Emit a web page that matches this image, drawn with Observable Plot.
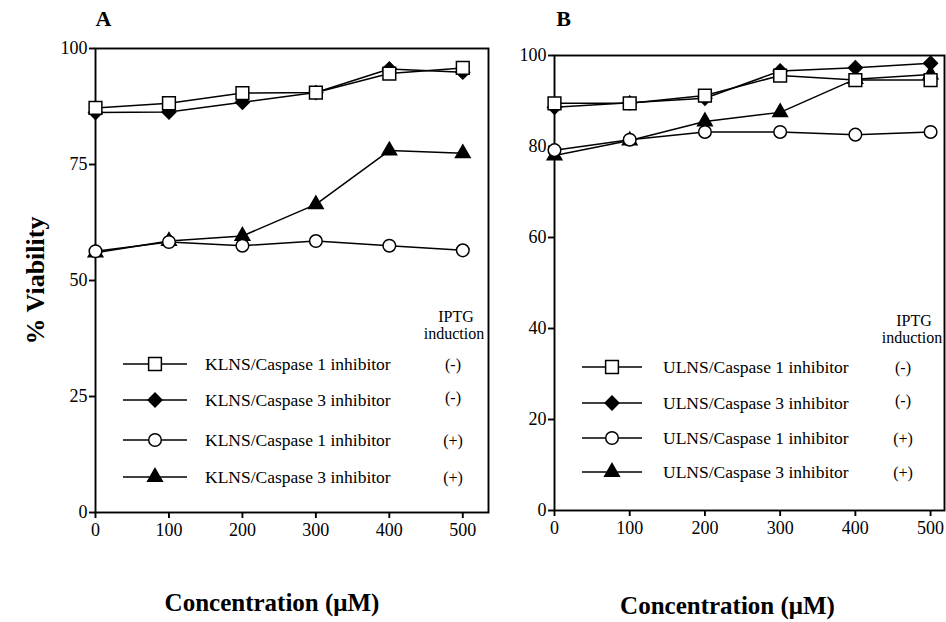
<!DOCTYPE html>
<html>
<head>
<meta charset="utf-8">
<script src="https://cdn.jsdelivr.net/npm/d3@7"></script>
<script src="https://cdn.jsdelivr.net/npm/@observablehq/plot@0.6"></script>
<style>
  html, body { margin: 0; padding: 0; background: #fff; }
  #wrap { position: relative; width: 946px; height: 622px; background: #fff; overflow: hidden; }
  #wrap > svg, #wrap > figure { position: absolute; top: 0; margin: 0; }
</style>
</head>
<body>
<div id="wrap"></div>
<script>
// ---- data ----
const conc = [0, 100, 200, 300, 400, 500];
const xTicks = [0, 100, 200, 300, 400, 500];
const yTicksA = [0, 25, 50, 75, 100];
const yTicksB = [0, 20, 40, 60, 80, 100];

// Panel A (KLNS)
const aCasp1Minus = [87.2, 88.2, 90.4, 90.5, 94.6, 95.8];
const aCasp3Minus = [86.2, 86.3, 88.4, 90.5, 95.6, 94.9];
const aCasp1Plus  = [56.3, 58.3, 57.5, 58.5, 57.5, 56.5];
const aCasp3Plus  = [56.0, 58.5, 59.6, 66.4, 78.0, 77.4];

// Panel B (ULNS)
const bCasp1Minus = [89.5, 89.5, 91.2, 95.6, 94.6, 94.6];
const bCasp3Minus = [88.6, 89.6, 90.6, 96.6, 97.3, 98.3];
const bCasp1Plus  = [79.2, 81.5, 83.2, 83.2, 82.6, 83.2];
const bCasp3Plus  = [78.0, 81.3, 85.5, 87.5, 94.8, 95.8];

const legendA = ["KLNS/Caspase 1 inhibitor", "KLNS/Caspase 3 inhibitor", "KLNS/Caspase 1 inhibitor", "KLNS/Caspase 3 inhibitor"];
const legendB = ["ULNS/Caspase 1 inhibitor", "ULNS/Caspase 3 inhibitor", "ULNS/Caspase 1 inhibitor", "ULNS/Caspase 3 inhibitor"];
const induction = ["(-)", "(-)", "(+)", "(+)"];

// marker styles (order matches legend rows)
const styles = [
  {symbol: "square",   fill: "white", r: 7.2},
  {symbol: "diamond2", fill: "black", r: 6.2},
  {symbol: "circle",   fill: "white", r: 6.3},
  {symbol: "triangle", fill: "black", r: 5.4}
];
const drawOrder = [3, 2, 1, 0];

const FONT = "'Liberation Serif', 'DejaVu Serif', serif";

function tidy(seriesList) {
  const rows = [];
  seriesList.forEach((vals, s) => vals.forEach((v, i) => rows.push({s, x: conc[i], y: v})));
  return rows;
}

function panel(opts) {
  const rows = tidy(opts.series);
  const marks = [
    Plot.frame({stroke: "black", strokeWidth: 1.9}),
    Plot.axisY({ticks: opts.yTicks, tickSize: 6, tickPadding: 2, label: null, fontSize: 18, strokeWidth: 1.9}),
    Plot.axisX({ticks: xTicks, tickSize: 6, tickPadding: 5, label: null, fontSize: 18, strokeWidth: 1.9}),
    Plot.line(rows, {x: "x", y: "y", z: "s", stroke: "black", strokeWidth: 1.5})
  ];
  for (const s of drawOrder) {
    const st = styles[s];
    marks.push(Plot.dot(rows.filter(d => d.s === s), {x: "x", y: "y", symbol: () => st.symbol, r: st.r, fill: st.fill, stroke: "black", strokeWidth: 1.5}));
  }
  marks.push(
    Plot.text([opts.letter], {frameAnchor: "top-left", dx: opts.letterDx, dy: opts.letterDy, fontSize: 22, fontWeight: "bold", lineAnchor: "middle", textAnchor: "middle"}),
    Plot.text(["Concentration (μM)"], {frameAnchor: "bottom", dx: opts.titleDx, dy: opts.titleDy, fontSize: 25, fontWeight: "bold", lineAnchor: "middle", textAnchor: "middle"})
  );
  if (opts.ylabel) {
    marks.push(Plot.text([opts.ylabel], {frameAnchor: "left", dx: opts.ylabelDx, dy: 0, rotate: -90, fontSize: 26, fontWeight: "bold", lineAnchor: "middle", textAnchor: "middle"}));
  }
  return Plot.plot({
    width: opts.width, height: 622,
    marginLeft: opts.ml, marginRight: opts.mr, marginTop: opts.mt, marginBottom: opts.mb,
    style: {fontFamily: FONT, fontSize: "18px", color: "black", background: "transparent", overflow: "visible"},
    x: {domain: [0, opts.xmax]},
    y: {domain: [0, 100]},
    symbol: {type: "identity"},
    marks
  });
}

const wrap = document.getElementById("wrap");

const pA = panel({
  series: [aCasp1Minus, aCasp3Minus, aCasp1Plus, aCasp3Plus],
  yTicks: yTicksA, width: 500, ml: 95, mr: 12, mt: 48, mb: 110, xmax: 535,
  letter: "A", letterDx: 8, letterDy: -30,
  titleDx: -20, titleDy: 90,
  ylabel: "% Viability", ylabelDx: -60
});
pA.style.left = "0px";
wrap.appendChild(pA);

const pB = panel({
  series: [bCasp1Minus, bCasp3Minus, bCasp1Plus, bCasp3Plus],
  yTicks: yTicksB, width: 446, ml: 54, mr: 2, mt: 55, mb: 112, xmax: 518.5,
  letter: "B", letterDx: 9, letterDy: -37,
  titleDx: -22, titleDy: 95
});
pB.style.left = "500px";
wrap.appendChild(pB);

// ---- legends (overlay) ----
const lsvg = d3.select(wrap).append("svg")
  .attr("width", 946).attr("height", 622)
  .style("left", "0px").style("pointer-events", "none")
  .style("font-family", FONT);

const symMap = {square: d3.symbolSquare, diamond2: d3.symbolDiamond2, circle: d3.symbolCircle, triangle: d3.symbolTriangle};

function legend(cfg) {
  const g = lsvg.append("g");
  g.append("text").attr("x", cfg.hdrX).attr("y", cfg.hdrY).attr("text-anchor", "middle")
    .attr("font-size", 16).text("IPTG");
  g.append("text").attr("x", cfg.hdrX - 2).attr("y", cfg.hdrY + 17).attr("text-anchor", "middle")
    .attr("font-size", 16).text("induction");
  cfg.labels.forEach((lab, i) => {
    const y = cfg.rows[i];
    const st = styles[i];
    g.append("line").attr("x1", cfg.x1).attr("x2", cfg.x2).attr("y1", y).attr("y2", y)
      .attr("stroke", "black").attr("stroke-width", 1.5);
    g.append("path")
      .attr("d", d3.symbol(symMap[st.symbol], Math.PI * st.r * st.r)())
      .attr("transform", `translate(${(cfg.x1 + cfg.x2) / 2},${y})`)
      .attr("fill", st.fill).attr("stroke", "black").attr("stroke-width", 1.5);
    g.append("text").attr("x", cfg.tx).attr("y", y).attr("dy", "0.35em")
      .attr("font-size", 17.5).text(lab);
    g.append("text").attr("x", cfg.sx).attr("y", y - (i === 1 ? 3 : 0)).attr("dy", "0.35em")
      .attr("text-anchor", "middle").attr("font-size", 16).text(induction[i]);
  });
}

legend({labels: legendA, rows: [364, 400, 440, 477], x1: 123, x2: 187, tx: 205, sx: 453, hdrX: 456, hdrY: 322});
legend({labels: legendB, rows: [367, 403, 438, 472], x1: 582, x2: 642, tx: 663, sx: 903, hdrX: 914, hdrY: 326});
</script>
</body>
</html>
